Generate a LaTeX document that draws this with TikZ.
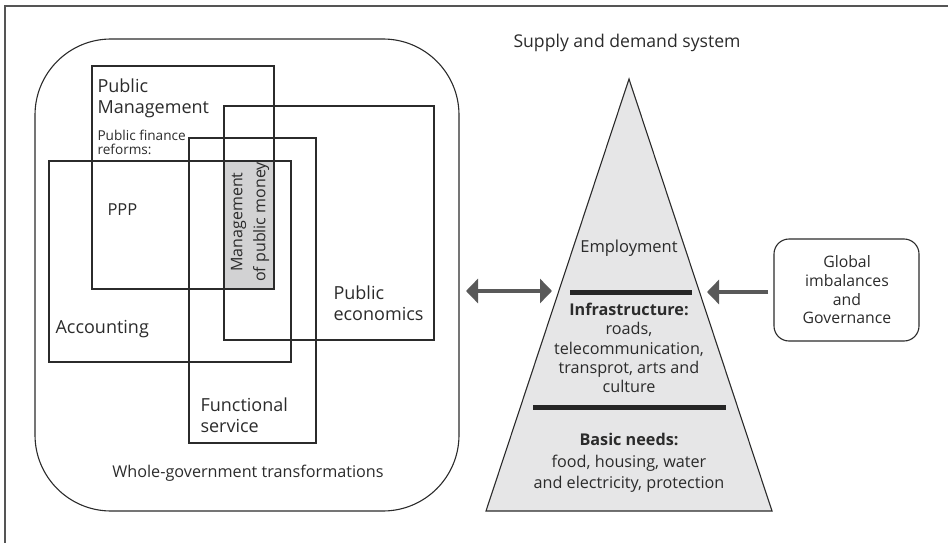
\documentclass[tikz,border=0pt]{standalone}
\usepackage{fontspec}
\setmainfont{Open Sans}
\usetikzlibrary{arrows.meta}
\definecolor{ink}{HTML}{2B2B2B}
\definecolor{framegray}{HTML}{555555}
\definecolor{cellgray}{HTML}{D2D2D3}
\definecolor{pyrfill}{HTML}{E6E6E7}
\definecolor{arrowgray}{HTML}{595959}
\begin{document}
\begin{tikzpicture}[x=1pt,y=-1pt,
  line width=1.1pt, draw=ink, text=ink,
  lbig/.style={font=\fontsize{18}{21}\selectfont, anchor=west, align=left, inner sep=0pt},
  lsmall/.style={font=\fontsize{16}{19}\selectfont, inner sep=0pt, align=center},
  ltri/.style={font=\fontsize{16.2}{19.2}\selectfont, align=center, inner sep=0pt},
  sep/.style={line width=5pt, draw=black!85},
  fat/.style={line width=4pt, draw=arrowgray, -{Triangle[width=24pt,length=12pt]}},
  fatboth/.style={line width=4pt, draw=arrowgray, {Triangle[width=24pt,length=12pt]}-{Triangle[width=24pt,length=12pt]}}]
\useasboundingbox (0,0) rectangle (948,543);
% page frame
\draw[framegray, line width=1.5pt] (5,543) -- (5,6) -- (948,6);

% whole-government container
\draw[rounded corners=76pt] (35,39) rectangle (459,511);
\node[lsmall, font=\fontsize{16.2}{19}\selectfont] (wg) at (248,473) {Whole-government transformations};

% shared area of the three fields
\fill[cellgray] (224,161) rectangle (274,289);
% overlapping fields
\draw (92,66) rectangle (274,289);
\draw (224,106) rectangle (434,340);
\draw (189,138) rectangle (316,443);
\draw (49,161) rectangle (291,362);

\node[lbig] (pm) at (97,98.5) {Public\\Management};
\node[lbig, font=\fontsize{13.6}{14}\selectfont] (pfr) at (97,142) {Public finance\\reforms:};
\node[lbig, font=\fontsize{16.5}{19}\selectfont] (ppp) at (107,210) {PPP};
\node[lsmall, rotate=90, font=\fontsize{16}{23}\selectfont] (mpm) at (250,222) {Management\\of public money};
\node[lbig] (acc) at (55,329) {Accounting};
\node[lbig] (pe) at (333,303.5) {Public\\economics};
\node[lbig] (fs) at (200,415.5) {Functional\\service};

% supply and demand pyramid
\node[lsmall, font=\fontsize{17.6}{20}\selectfont] (sd) at (627,43) {Supply and demand system};
\filldraw[fill=pyrfill] (629,79) coordinate (apex) -- (772,511) coordinate (br) -- (486,511) coordinate (bl) -- cycle;
\node[ltri, font=\fontsize{16.5}{19}\selectfont] (emp) at (629,248) {Employment};
\draw[sep] (570,292) coordinate (s1l) -- (692,292) coordinate (s1r);
\node[ltri] (inf) at (629,348) {\textbf{Infrastructure:}\\roads,\\telecommunication,\\transprot, arts and\\culture};
\draw[sep] (533,407) coordinate (s2l) -- (726,407) coordinate (s2r);
\node[ltri, font=\fontsize{16.2}{21.5}\selectfont] (bn) at (629,463) {\textbf{Basic needs:}\\food, housing, water\\and electricity, protection};

% external influence
\draw[rounded corners=15pt] (774,239) rectangle (919,341);
\node[ltri, font=\fontsize{15.8}{18.7}\selectfont] (glob) at (847,290) {Global\\imbalances\\and\\Governance};

% links
\coordinate (wgR) at (466,291);
\coordinate (pyrL) at (552,291);
\coordinate (globL) at (768,292);
\coordinate (pyrR) at (707,292);
\draw[fatboth] (wgR) -- (pyrL);
\draw[fat] (globL) -- (pyrR);
\end{tikzpicture}
\end{document}
